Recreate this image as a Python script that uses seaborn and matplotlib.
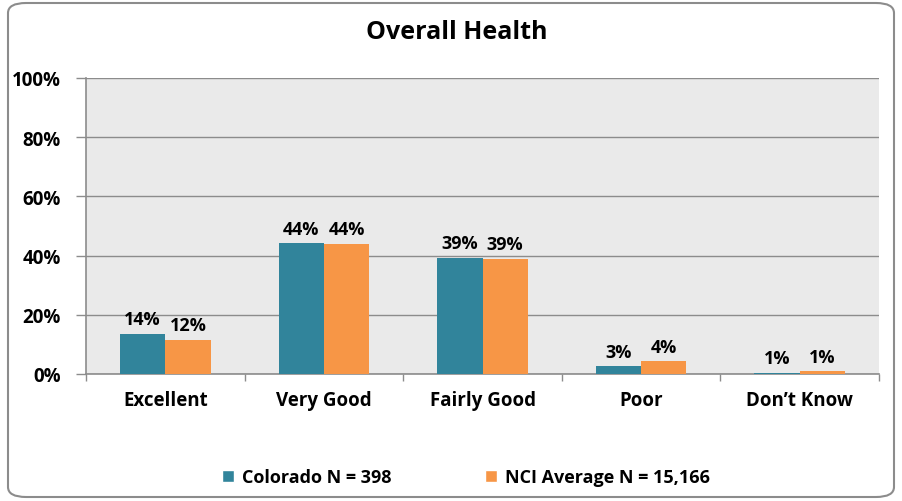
import matplotlib
matplotlib.use("Agg")
import matplotlib.pyplot as plt
import seaborn as sns
import pandas as pd
import numpy as np
from matplotlib.patches import FancyBboxPatch, Rectangle

categories = ["Excellent", "Very Good", "Fairly Good", "Poor", "Don\u2019t Know"]
series_names = ["Colorado N = 398", "NCI Average N = 15,166"]
colorado = [13.5, 44.2, 39.2, 2.6, 0.5]
nci = [11.6, 44.0, 39.0, 4.3, 0.9]
colorado_labels = ["14%", "44%", "39%", "3%", "1%"]
nci_labels = ["12%", "44%", "39%", "4%", "1%"]
y_ticks = [0, 20, 40, 60, 80, 100]
y_tick_labels = ["0%", "20%", "40%", "60%", "80%", "100%"]
title = "Overall Health"
colors = ["#31849B", "#F79646"]

sns.set_style("white")
plt.rcParams["font.family"] = ["Open Sans", "DejaVu Sans"]
plt.rcParams["text.color"] = "black"
plt.rcParams["ytick.labelcolor"] = "black"

df = pd.DataFrame({
    "category": categories * 2,
    "series": [series_names[0]] * 5 + [series_names[1]] * 5,
    "value": colorado + nci,
})

fig = plt.figure(figsize=(9.03, 5.02), dpi=100)
fig.patch.set_facecolor("white")
border = FancyBboxPatch((8 / 903, 4 / 502), 886 / 903, 494 / 502,
                        boxstyle="round,pad=0,rounding_size=0.02",
                        transform=fig.transFigure, facecolor="none",
                        edgecolor="#8C8C8C", linewidth=1.5, zorder=-1)
fig.patches.append(border)

ax = fig.add_axes([86 / 903, 1 - 375 / 502, (879 - 86) / 903, (375 - 79) / 502])
ax.set_facecolor("#EAEAEA")

sns.barplot(data=df, x="category", y="value", hue="series", order=categories,
            hue_order=series_names, palette=colors, width=0.57, ax=ax,
            saturation=1, legend=False, zorder=3, linewidth=0)

ax.set_ylim(0, 100)
ax.set_xlim(-0.5, 4.5)
ax.set_yticks(y_ticks)
ax.set_yticklabels(y_tick_labels, fontsize=13.5, fontweight="bold", color="black")
ax.yaxis.grid(True, color="#8C8C8C", linewidth=1.0, zorder=0)
ax.set_axisbelow(True)
ax.set_xlabel("")
ax.set_ylabel("")

ax.set_xticks(np.arange(-0.5, 5.0, 1.0))
ax.set_xticklabels([""] * 6)
ax.tick_params(axis="x", length=5, color="#8C8C8C", width=1, direction="out", bottom=True)
ax.tick_params(axis="y", length=7, color="#8C8C8C", width=1, direction="out", left=True, pad=11)
for i, c in enumerate(categories):
    ax.text(i, -5.3, c, ha="center", va="top", fontsize=13.5, fontweight="bold",
            color="black", transform=ax.transData)

for s in ["top", "right"]:
    ax.spines[s].set_visible(False)
for s in ["left", "bottom"]:
    ax.spines[s].set_color("#8C8C8C")
    ax.spines[s].set_linewidth(1.2)

for cont, labels in zip(ax.containers, [colorado_labels, nci_labels]):
    ax.bar_label(cont, labels=labels, padding=4, fontsize=13, fontweight="bold",
                 color="black", zorder=4)

fig.text((366 + 548) / 2 / 903, 1 - 33 / 502, title, ha="center", va="center",
         fontsize=18, fontweight="bold", color="black")

handles = [Rectangle((0, 0), 1, 1, facecolor=c) for c in colors]
fig.legend(handles, series_names, loc="center", bbox_to_anchor=(0.516, 1 - 478 / 502),
           ncol=2, frameon=False, prop={"weight": "bold", "size": 13},
           handlelength=0.65, handleheight=0.65, handletextpad=0.45, columnspacing=5.2)

fig.savefig("out.png", dpi=100, facecolor="white")
